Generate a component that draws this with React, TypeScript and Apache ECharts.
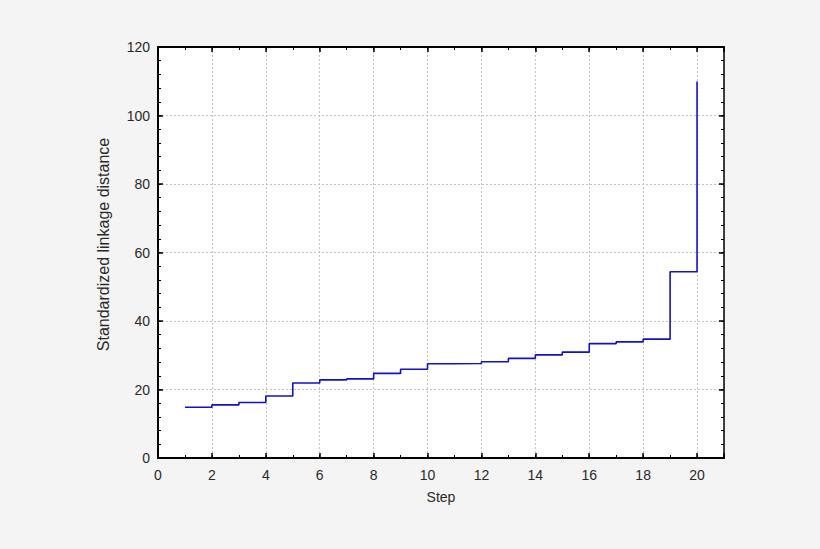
import React, { useEffect, useRef } from "react";
import * as echarts from "echarts";

const steps = [1, 2, 3, 4, 5, 6, 7, 8, 9, 10, 11, 12, 13, 14, 15, 16, 17, 18, 19, 20];
const distances = [14.8, 15.5, 16.2, 18.1, 21.9, 22.8, 23.1, 24.7, 25.9, 27.5, 27.6, 28.1, 29.1, 30.1, 30.9, 33.4, 33.9, 34.7, 54.4, 109.9];
const xTitle = "Step";
const yTitle = "Standardized linkage distance";

export default function App() {
  const ref = useRef<HTMLDivElement>(null);
  useEffect(() => {
    if (!ref.current) return;
    const chart = echarts.init(ref.current, null, { renderer: "svg" });
    const font = "Liberation Sans, Arial, sans-serif";
    const split = { show: true, lineStyle: { color: "#c4c4c4", type: [2, 2] as any, width: 1 } };
    const majorTick = { show: true, inside: true, length: 5, lineStyle: { color: "#000", width: 1.5 } };
    const minorTickA = { show: true, inside: true, length: 3, lineStyle: { color: "#000", width: 1 } };
    const helperX = (position: string, interval: number, tick: any, line: any) => ({
      type: "value", min: 0, max: 21, interval, position,
      axisLine: { onZero: false, ...line }, axisTick: tick, axisLabel: { show: false }, splitLine: { show: false },
    });
    const helperY = (position: string, interval: number, tick: any, line: any) => ({
      type: "value", min: 0, max: 120, interval, position,
      axisLine: { onZero: false, ...line }, axisTick: tick, axisLabel: { show: false }, splitLine: { show: false },
    });
    chart.setOption({
      animation: false,
      backgroundColor: "#f4f4f4",
      grid: { left: 158, top: 47, right: 96, bottom: 91, show: true, backgroundColor: "#fff", borderWidth: 0 },
      xAxis: [
        {
          type: "value", min: 0, max: 21, interval: 2, position: "bottom",
          name: xTitle, nameLocation: "middle", nameGap: 32,
          nameTextStyle: { fontFamily: font, fontSize: 14, color: "#2a2a2a" },
          axisLine: { show: true, onZero: false, lineStyle: { color: "#000", width: 2 } },
          axisTick: majorTick,
          axisLabel: { fontFamily: font, fontSize: 14, color: "#2a2a2a", margin: 10, formatter: (v: number) => (v > 20 ? "" : String(v)) },
          splitLine: split,
        },
        helperX("top", 2, majorTick, { show: true, lineStyle: { color: "#000", width: 2 } }),
        helperX("bottom", 1, minorTickA, { show: false }),
        helperX("top", 1, minorTickA, { show: false }),
      ],
      yAxis: [
        {
          type: "value", min: 0, max: 120, interval: 20, position: "left",
          name: yTitle, nameLocation: "middle", nameGap: 47, nameRotate: 90,
          nameTextStyle: { fontFamily: font, fontSize: 16, color: "#2a2a2a", padding: [0, 0, 0, 16] },
          axisLine: { show: true, onZero: false, lineStyle: { color: "#000", width: 2 } },
          axisTick: majorTick,
          axisLabel: { fontFamily: font, fontSize: 14, color: "#2a2a2a", margin: 8 },
          splitLine: split,
        },
        helperY("right", 20, majorTick, { show: true, lineStyle: { color: "#000", width: 1.5 } }),
        helperY("left", 4, minorTickA, { show: false }),
        helperY("right", 4, minorTickA, { show: false }),
      ],
      series: [
        {
          type: "line",
          step: "end",
          data: steps.map((s, i) => [s, distances[i]]),
          showSymbol: false,
          symbol: "none",
          lineStyle: { color: "#1212c6", width: 1.6 },
        },
      ],
    });
    return () => chart.dispose();
  }, []);
  return <div ref={ref} style={{ width: 820, height: 549, position: "absolute", left: 0, top: 0 }} />;
}
